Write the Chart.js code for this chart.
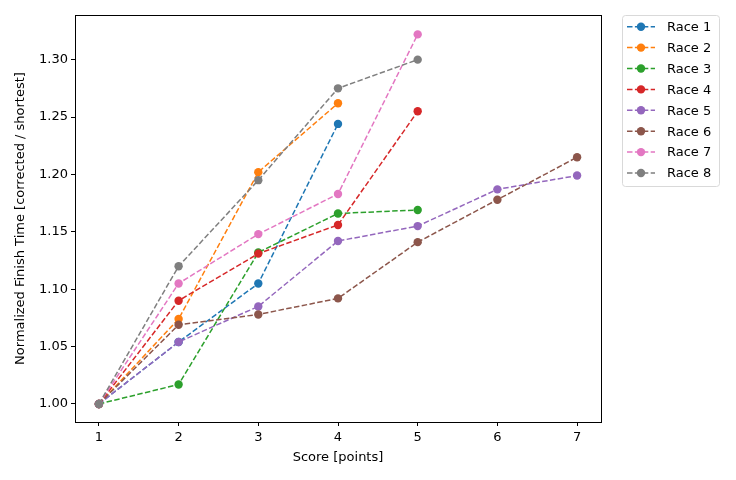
<!DOCTYPE html>
<html>
<head>
<meta charset="utf-8">
<script src="https://cdn.jsdelivr.net/npm/chart.js@4/dist/chart.umd.min.js"></script>
<style>
html, body { margin:0; padding:0; background:#fff; }
#wrap { width:736px; height:480px; }
</style>
</head>
<body>
<div id="wrap"><canvas id="raceChart" width="736" height="480"></canvas></div>
<script>
const scores = [1, 2, 3, 4, 5, 6, 7]
const yTicks = [1.00, 1.05, 1.10, 1.15, 1.20, 1.25, 1.30]

const race1 = [1.000, 1.054, 1.105, 1.244]
const race2 = [1.000, 1.074, 1.202, 1.262]
const race3 = [1.000, 1.017, 1.132, 1.166, 1.169]
const race4 = [1.000, 1.090, 1.131, 1.156, 1.255]
const race5 = [1.000, 1.054, 1.085, 1.142, 1.155, 1.187, 1.199]
const race6 = [1.000, 1.069, 1.078, 1.092, 1.141, 1.178, 1.215]
const race7 = [1.000, 1.105, 1.148, 1.183, 1.322]
const race8 = [1.000, 1.120, 1.195, 1.275, 1.300]

const raceNames = ['Race 1','Race 2','Race 3','Race 4','Race 5','Race 6','Race 7','Race 8']
const raceValues = [race1, race2, race3, race4, race5, race6, race7, race8]
const colors = ['#1f77b4','#ff7f0e','#2ca02c','#d62728','#9467bd','#8c564b','#e377c2','#7f7f7f']

const FONT = '"DejaVu Sans", sans-serif'
const FSIZE = 13
const DASH = [5.5, 2.4]

let datasets = raceValues.map((vals, i) => ({
    label: raceNames[i],
    data: vals.map((v, k) => ({ x: scores[k], y: v })),
    borderColor: colors[i],
    backgroundColor: colors[i],
    borderWidth: 1.5,
    borderDash: DASH,
    pointRadius: 4.2,
    pointBorderWidth: 0,
    pointBackgroundColor: colors[i],
    tension: 0,
    order: raceNames.length - i
}))

// axes frame + legend box like matplotlib
const framePlugin = {
    id: 'frame',
    afterDraw(chart){
        const ctx = chart.ctx
        const a = chart.chartArea
        ctx.save()
        ctx.strokeStyle = '#000'
        ctx.lineWidth = 1
        ctx.strokeRect(Math.round(a.left) + 0.5, Math.round(a.top) + 0.5,
            Math.round(a.right - a.left), Math.round(a.bottom - a.top))

        // legend
        const lx = 622.5, ly = 15.5, lw = 97, lh = 171
        ctx.strokeStyle = '#d9d9d9'
        ctx.fillStyle = 'rgba(255,255,255,0.8)'
        ctx.beginPath()
        ctx.roundRect(lx, ly, lw, lh, 3)
        ctx.fill()
        ctx.stroke()

        ctx.font = FSIZE + 'px ' + FONT
        ctx.textBaseline = 'middle'
        chart.data.datasets.forEach((ds, i) => {
            const y = 26.7 + i * 20.9
            ctx.strokeStyle = ds.borderColor
            ctx.lineWidth = 1.5
            ctx.setLineDash(DASH)
            ctx.beginPath()
            ctx.moveTo(627, y)
            ctx.lineTo(655, y)
            ctx.stroke()
            ctx.setLineDash([])
            ctx.fillStyle = ds.borderColor
            ctx.beginPath()
            ctx.arc(641, y, 4.2, 0, Math.PI * 2)
            ctx.fill()
            ctx.fillStyle = '#000'
            ctx.fillText(ds.label, 667, y + 1)
        })
        ctx.restore()
    }
}

new Chart(
    document.getElementById('raceChart'),
    {
        type: 'line',
        data: { datasets: datasets },
        options: {
            responsive: false,
            animation: false,
            devicePixelRatio: 1,
            layout: { padding: { left: 0, top: 15, right: 135, bottom: 0 } },
            plugins: {
                legend: { display: false },
                tooltip: { enabled: false }
            },
            scales: {
                x: {
                    type: 'linear',
                    min: 0.7,
                    max: 7.3,
                    afterBuildTicks: (s) => { s.ticks = scores.map(v => ({ value: v })) },
                    grid: { drawOnChartArea: false, color: '#000', tickLength: 4, tickWidth: 1 },
                    border: { display: true, color: '#000' },
                    ticks: { color: '#000', font: { family: FONT, size: FSIZE }, padding: 4, maxRotation: 0 },
                    title: { display: true, text: 'Score [points]', color: '#000',
                        font: { family: FONT, size: FSIZE }, padding: { top: 4, bottom: 15 } },
                    afterFit: (s) => { s.height = 58 }
                },
                y: {
                    type: 'linear',
                    min: 0.9843,
                    max: 1.3389,
                    afterBuildTicks: (s) => { s.ticks = yTicks.map(v => ({ value: v })) },
                    grid: { drawOnChartArea: false, color: '#000', tickLength: 4, tickWidth: 1 },
                    border: { display: true, color: '#000' },
                    ticks: { color: '#000', font: { family: FONT, size: FSIZE }, padding: 3,
                        callback: (v) => v.toFixed(2) },
                    title: { display: true, text: 'Normalized Finish Time [corrected / shortest]', color: '#000',
                        font: { family: FONT, size: FSIZE }, padding: { top: 13, bottom: 4 } },
                    afterFit: (s) => { s.width = 75 }
                }
            }
        },
        plugins: [framePlugin]
    }
)
</script>
</body>
</html>
